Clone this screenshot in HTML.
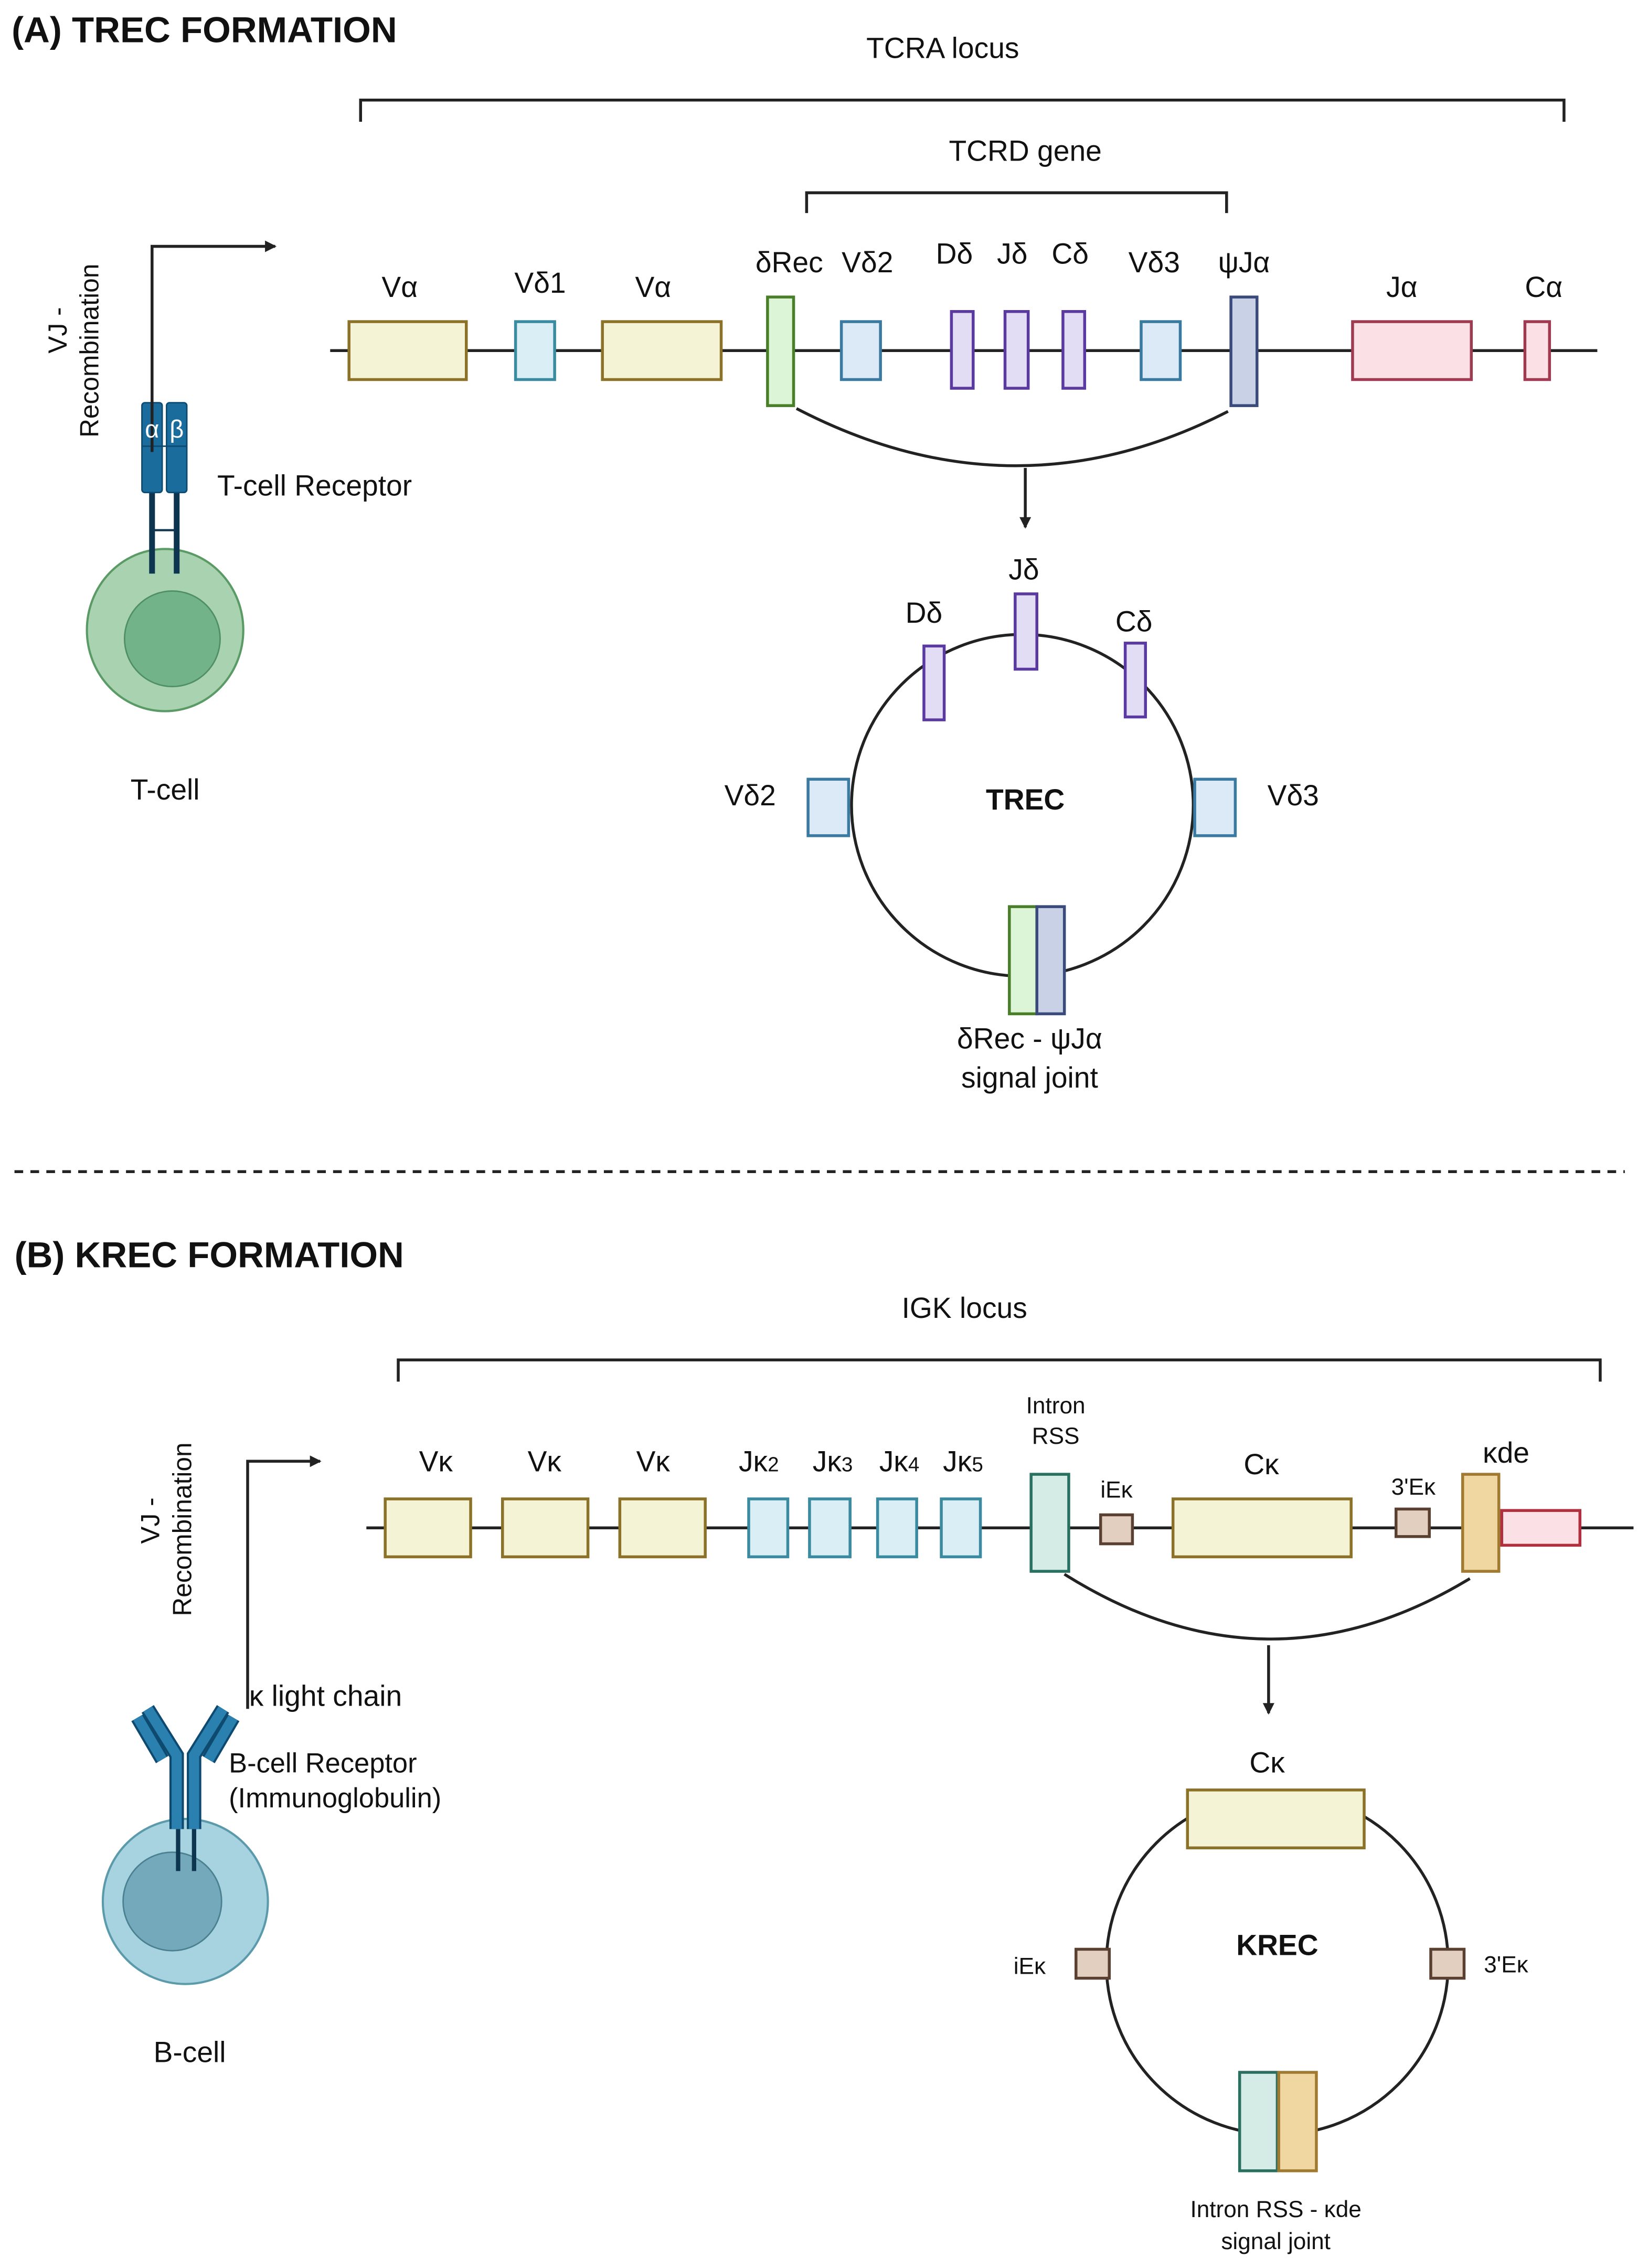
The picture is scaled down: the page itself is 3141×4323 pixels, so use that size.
<!DOCTYPE html>
<html><head><meta charset="utf-8"><style>
html,body{margin:0;padding:0;background:#fff}
svg{display:block}
text{font-family:"Liberation Sans",sans-serif;fill:#111}
</style></head><body>
<svg width="3141" height="4323" viewBox="0 0 1138 1566" xmlns="http://www.w3.org/2000/svg">
<defs><marker id="ah" markerWidth="8" markerHeight="8" refX="7" refY="4" orient="auto" markerUnits="userSpaceOnUse"><path d="M0,0 L8,4 L0,8 z" fill="#222"/></marker></defs>
<rect width="1138" height="1566" fill="#fff"/>
<!-- (A) -->
<text x="8" y="29" font-size="25" font-weight="bold">(A) TREC FORMATION</text>
<text x="651" y="40" font-size="20" text-anchor="middle">TCRA locus</text>
<path d="M249,84 V69 H1080 V84" fill="none" stroke="#222" stroke-width="2"/>
<text x="708" y="111" font-size="20" text-anchor="middle">TCRD gene</text>
<path d="M557,147 V133 H847 V147" fill="none" stroke="#222" stroke-width="2"/>
<line x1="228" y1="242" x2="1103" y2="242" stroke="#222" stroke-width="2"/>
<g stroke-width="2">
<rect x="241" y="222" width="81" height="40" fill="#f5f3d6" stroke="#8b7228"/>
<rect x="356" y="222" width="27" height="40" fill="#d9eef5" stroke="#3a8aa0"/>
<rect x="416" y="222" width="82" height="40" fill="#f5f3d6" stroke="#8b7228"/>
<rect x="530" y="205" width="18" height="75" fill="#dcf5d6" stroke="#4a7f2a"/>
<rect x="581" y="222" width="27" height="40" fill="#dce9f7" stroke="#3a7aa0"/>
<rect x="657" y="215" width="15" height="53" fill="#e3dcf5" stroke="#5a3aa0"/>
<rect x="694" y="215" width="16" height="53" fill="#e3dcf5" stroke="#5a3aa0"/>
<rect x="734" y="215" width="15" height="53" fill="#e3dcf5" stroke="#5a3aa0"/>
<rect x="788" y="222" width="27" height="40" fill="#dce9f7" stroke="#3a7aa0"/>
<rect x="850" y="205" width="18" height="75" fill="#c9d1e6" stroke="#3a4a7a"/>
<rect x="934" y="222" width="82" height="40" fill="#fbe1e6" stroke="#a03a50"/>
<rect x="1053" y="222" width="17" height="40" fill="#fbe1e6" stroke="#a03a50"/>
</g>
<g font-size="20" text-anchor="middle">
<text x="276" y="205">Vα</text><text x="373" y="202">Vδ1</text><text x="451" y="205">Vα</text>
<text x="545" y="188">δRec</text><text x="599" y="188">Vδ2</text><text x="659" y="182">Dδ</text>
<text x="699" y="182">Jδ</text><text x="739" y="182">Cδ</text><text x="797" y="188">Vδ3</text>
<text x="859" y="188">ψJα</text><text x="968" y="205">Jα</text><text x="1066" y="205">Cα</text>
</g>
<path d="M550,282 Q700,360 848,284" fill="none" stroke="#222" stroke-width="2"/>
<line x1="708" y1="323" x2="708" y2="364" stroke="#222" stroke-width="2" marker-end="url(#ah)"/>
<circle cx="706" cy="556" r="118" fill="none" stroke="#222" stroke-width="2"/>
<g stroke-width="2">
<rect x="701" y="410" width="15" height="52" fill="#e3dcf5" stroke="#5a3aa0"/>
<rect x="638" y="446" width="14" height="51" fill="#e3dcf5" stroke="#5a3aa0"/>
<rect x="777" y="444" width="14" height="51" fill="#e3dcf5" stroke="#5a3aa0"/>
<rect x="558" y="538" width="28" height="39" fill="#dce9f7" stroke="#3a7aa0"/>
<rect x="825" y="538" width="28" height="39" fill="#dce9f7" stroke="#3a7aa0"/>
<rect x="697" y="626" width="19" height="74" fill="#dcf5d6" stroke="#4a7f2a"/>
<rect x="716" y="626" width="19" height="74" fill="#c9d1e6" stroke="#3a4a7a"/>
</g>
<g font-size="20" text-anchor="middle">
<text x="707" y="400">Jδ</text><text x="638" y="430">Dδ</text><text x="783" y="436">Cδ</text>
<text x="518" y="556">Vδ2</text><text x="893" y="556">Vδ3</text>
<text x="708" y="559" font-weight="bold">TREC</text>
<text x="711" y="724">δRec - ψJα</text><text x="711" y="751">signal joint</text>
</g>
<!-- T cell -->
<ellipse cx="114" cy="435" rx="54" ry="56" fill="#a9d2b0" stroke="#5a9a64" stroke-width="1.5"/>
<ellipse cx="119" cy="441" rx="33" ry="33" fill="#72b38a" stroke="#4f8f64" stroke-width="1"/>
<line x1="105" y1="340" x2="105" y2="396" stroke="#0e3550" stroke-width="4"/>
<line x1="122" y1="340" x2="122" y2="396" stroke="#0e3550" stroke-width="4"/>
<line x1="105" y1="366" x2="122" y2="366" stroke="#0e3550" stroke-width="1.5"/>
<rect x="98" y="278" width="14" height="62" rx="2" fill="#1a6c9c" stroke="#0e4a70"/>
<rect x="115" y="278" width="14" height="62" rx="2" fill="#1a6c9c" stroke="#0e4a70"/>
<line x1="98" y1="308" x2="129" y2="308" stroke="#0e4a70" stroke-width="1"/>
<polyline points="105,312 105,170 190,170" fill="none" stroke="#222" stroke-width="2" marker-end="url(#ah)"/>
<text x="105" y="302" font-size="17" text-anchor="middle" style="fill:#fff">α</text>
<text x="122" y="302" font-size="17" text-anchor="middle" style="fill:#fff">β</text>
<text transform="translate(46,228) rotate(-90)" font-size="18" text-anchor="middle">VJ -</text>
<text transform="translate(68,242) rotate(-90)" font-size="18" text-anchor="middle">Recombination</text>
<text x="150" y="342" font-size="20">T-cell Receptor</text>
<text x="114" y="552" font-size="20" text-anchor="middle">T-cell</text>
<line x1="10" y1="809" x2="1122" y2="809" stroke="#222" stroke-width="2" stroke-dasharray="6,5"/>
<!-- (B) -->
<text x="10" y="875" font-size="25" font-weight="bold">(B) KREC FORMATION</text>
<text x="666" y="910" font-size="20" text-anchor="middle">IGK locus</text>
<path d="M275,954 V939 H1105 V954" fill="none" stroke="#222" stroke-width="2"/>
<line x1="253" y1="1055" x2="1128" y2="1055" stroke="#222" stroke-width="2"/>
<g stroke-width="2">
<rect x="266" y="1035" width="59" height="40" fill="#f5f3d6" stroke="#8b7228"/>
<rect x="347" y="1035" width="59" height="40" fill="#f5f3d6" stroke="#8b7228"/>
<rect x="428" y="1035" width="59" height="40" fill="#f5f3d6" stroke="#8b7228"/>
<rect x="517" y="1035" width="27" height="40" fill="#d9eef5" stroke="#3a8aa0"/>
<rect x="559" y="1035" width="28" height="40" fill="#d9eef5" stroke="#3a8aa0"/>
<rect x="606" y="1035" width="27" height="40" fill="#d9eef5" stroke="#3a8aa0"/>
<rect x="650" y="1035" width="27" height="40" fill="#d9eef5" stroke="#3a8aa0"/>
<rect x="712" y="1018" width="26" height="67" fill="#d5ece6" stroke="#2a7060"/>
<rect x="760" y="1046" width="22" height="20" fill="#e3cfc0" stroke="#5a4030"/>
<rect x="810" y="1035" width="123" height="40" fill="#f5f3d6" stroke="#8b7228"/>
<rect x="964" y="1042" width="23" height="19" fill="#e3cfc0" stroke="#5a4030"/>
<rect x="1037" y="1043" width="54" height="24" fill="#fbe1e6" stroke="#b03040"/>
<rect x="1010" y="1018" width="25" height="67" fill="#f0d6a0" stroke="#a07a30"/>
</g>
<g font-size="20" text-anchor="middle">
<text x="301" y="1016">Vκ</text><text x="376" y="1016">Vκ</text><text x="451" y="1016">Vκ</text>
<text x="524" y="1016">Jκ<tspan font-size="14">2</tspan></text>
<text x="575" y="1016">Jκ<tspan font-size="14">3</tspan></text>
<text x="621" y="1016">Jκ<tspan font-size="14">4</tspan></text>
<text x="665" y="1016">Jκ<tspan font-size="14">5</tspan></text>
<text x="729" y="976" font-size="16">Intron</text><text x="729" y="997" font-size="16">RSS</text>
<text x="771" y="1034" font-size="16">iEκ</text>
<text x="871" y="1018">Cκ</text>
<text x="976" y="1032" font-size="16">3'Eκ</text>
<text x="1040" y="1010">κde</text>
</g>
<path d="M735,1087 Q875,1175 1015,1090" fill="none" stroke="#222" stroke-width="2"/>
<line x1="876" y1="1136" x2="876" y2="1183" stroke="#222" stroke-width="2" marker-end="url(#ah)"/>
<circle cx="882" cy="1356" r="118" fill="none" stroke="#222" stroke-width="2"/>
<g stroke-width="2">
<rect x="820" y="1236" width="122" height="40" fill="#f5f3d6" stroke="#8b7228"/>
<rect x="743" y="1346" width="23" height="20" fill="#e3cfc0" stroke="#5a4030"/>
<rect x="988" y="1346" width="23" height="20" fill="#e3cfc0" stroke="#5a4030"/>
<rect x="856" y="1431" width="26" height="68" fill="#d5ece6" stroke="#2a7060"/>
<rect x="883" y="1431" width="26" height="68" fill="#f0d6a0" stroke="#a07a30"/>
</g>
<g text-anchor="middle">
<text x="875" y="1224" font-size="20">Cκ</text>
<text x="882" y="1350" font-size="20" font-weight="bold">KREC</text>
<text x="711" y="1363" font-size="16">iEκ</text>
<text x="1040" y="1362" font-size="16">3'Eκ</text>
<text x="881" y="1531" font-size="16">Intron RSS - κde</text>
<text x="881" y="1553" font-size="16">signal joint</text>
</g>
<!-- B cell -->
<circle cx="128" cy="1313" r="57" fill="#a6d3df" stroke="#5a9aaa" stroke-width="1.5"/>
<circle cx="119" cy="1313" r="34" fill="#73a9bb" stroke="#4a8090" stroke-width="1"/>
<line x1="123" y1="1262" x2="123" y2="1292" stroke="#0e3550" stroke-width="3"/>
<line x1="134" y1="1262" x2="134" y2="1292" stroke="#0e3550" stroke-width="3"/>
<g fill="none" stroke-linecap="butt">
<polyline points="122,1263 122,1212 102,1180" stroke="#0e4a70" stroke-width="10"/>
<polyline points="122,1263 122,1212 102,1180" stroke="#2a80ae" stroke-width="7"/>
<polyline points="134,1263 134,1212 154,1180" stroke="#0e4a70" stroke-width="10"/>
<polyline points="134,1263 134,1212 154,1180" stroke="#2a80ae" stroke-width="7"/>
<line x1="95" y1="1186" x2="112" y2="1215" stroke="#0e4a70" stroke-width="10"/>
<line x1="95" y1="1186" x2="112" y2="1215" stroke="#2a80ae" stroke-width="7"/>
<line x1="161" y1="1186" x2="144" y2="1215" stroke="#0e4a70" stroke-width="10"/>
<line x1="161" y1="1186" x2="144" y2="1215" stroke="#2a80ae" stroke-width="7"/>
</g>
<polyline points="171,1180 171,1009 221,1009" fill="none" stroke="#222" stroke-width="2" marker-end="url(#ah)"/>
<text transform="translate(110,1050) rotate(-90)" font-size="18" text-anchor="middle">VJ -</text>
<text transform="translate(132,1056) rotate(-90)" font-size="18" text-anchor="middle">Recombination</text>
<text x="172" y="1178" font-size="20">κ light chain</text>
<text x="158" y="1224" font-size="19">B-cell Receptor</text>
<text x="158" y="1248" font-size="19">(Immunoglobulin)</text>
<text x="131" y="1424" font-size="20" text-anchor="middle">B-cell</text>
</svg>
</body></html>
